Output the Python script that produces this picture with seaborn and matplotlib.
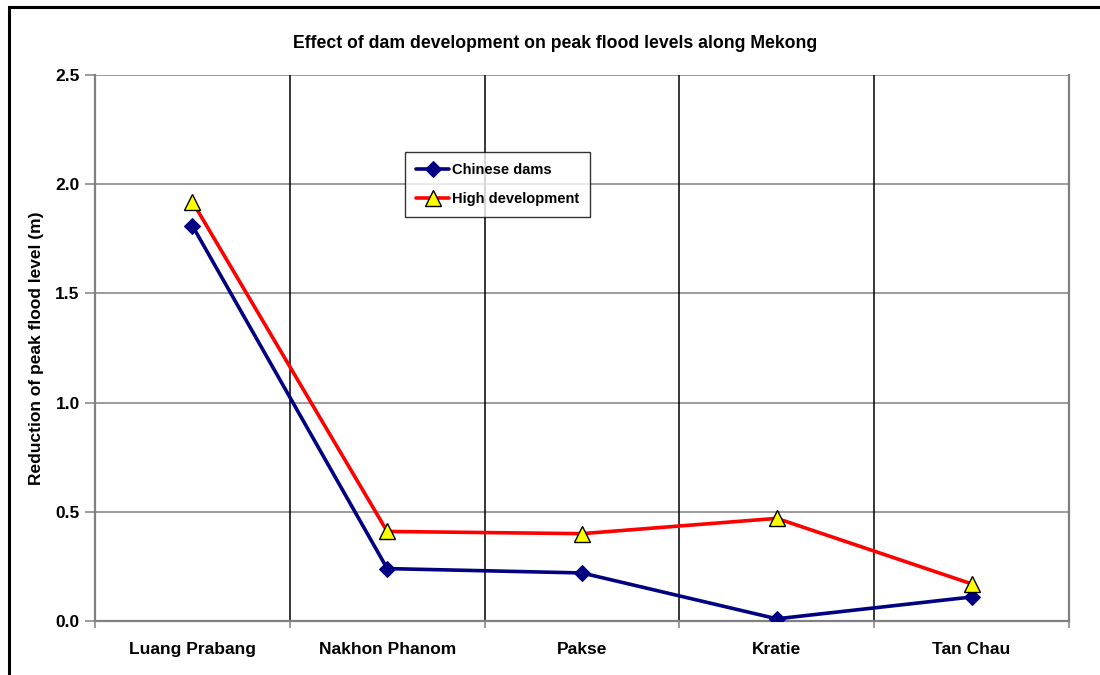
import matplotlib
matplotlib.use("Agg")
import matplotlib.pyplot as plt
import seaborn as sns
import pandas as pd
from matplotlib.patches import Rectangle

stations = ["Luang Prabang", "Nakhon Phanom", "Pakse", "Kratie", "Tan Chau"]
chinese_dams = [1.81, 0.24, 0.22, 0.01, 0.11]
high_development = [1.92, 0.41, 0.40, 0.47, 0.17]
y_ticks = [0.0, 0.5, 1.0, 1.5, 2.0, 2.5]

sns.set_style("white")
plt.rcParams["font.family"] = ["Liberation Sans", "DejaVu Sans"]
plt.rcParams["text.color"] = "black"
plt.rcParams["axes.labelcolor"] = "black"
plt.rcParams["xtick.color"] = "black"
plt.rcParams["ytick.color"] = "black"

df = pd.DataFrame({
    "pos": list(range(len(stations))) * 2,
    "value": chinese_dams + high_development,
    "series": ["Chinese dams"] * len(stations) + ["High development"] * len(stations),
})

fig = plt.figure(figsize=(11, 6.75), dpi=100)
ax = fig.add_axes([95 / 1100, 1 - 621 / 675, (1069 - 95) / 1100, (621 - 75) / 675])

# chart frame
fig.patches.append(Rectangle((8.5 / 1100, -0.1), 1.2, 1 - 7.5 / 675 + 0.1,
                             transform=fig.transFigure, fill=False,
                             edgecolor="black", linewidth=2.2, zorder=0))

grid_gray = "#808080"
for y in y_ticks:
    ax.axhline(y, color=grid_gray, linewidth=1.1, zorder=0)
for b in [0.5, 1.5, 2.5, 3.5]:
    ax.axvline(b, color="black", linewidth=1.1, zorder=0)

sub_c = df[df["series"] == "Chinese dams"]
sub_h = df[df["series"] == "High development"]
sns.lineplot(data=sub_c, x="pos", y="value", ax=ax, color="#000080", linewidth=2.6,
             marker="D", markersize=8, markeredgecolor="#000080",
             markerfacecolor="#000080", label="Chinese dams", zorder=3)
sns.lineplot(data=sub_h, x="pos", y="value", ax=ax, color="#FF0000", linewidth=2.6,
             marker="^", markersize=12, markeredgecolor="black", markeredgewidth=1.0,
             markerfacecolor="#FFFF00", label="High development", zorder=4)

ax.set_xlim(-0.5, len(stations) - 0.5)
ax.set_ylim(0, 2.5)
ax.set_yticks(y_ticks)
ax.set_yticklabels([f"{v:.1f}" for v in y_ticks], fontsize=12.5, fontweight="bold")
ax.set_xticks(range(len(stations)))
ax.set_xticklabels(stations, fontsize=12.5, fontweight="bold")
ax.tick_params(axis="x", length=0, pad=15)
ax.tick_params(axis="y", length=7, width=1.1, color=grid_gray, labelcolor="black",
               left=True, pad=4)
# minor ticks at category boundaries below the axis
ax.set_xticks([-0.5, 0.5, 1.5, 2.5, 3.5, 4.5], minor=True)
ax.tick_params(axis="x", which="minor", length=5, width=1.1, color=grid_gray, bottom=True)

ax.set_xlabel("")
ax.set_ylabel("Reduction of peak flood level (m)", fontsize=12.5, fontweight="bold", labelpad=8)

for side in ["left", "bottom", "right"]:
    ax.spines[side].set_color(grid_gray)
    ax.spines[side].set_linewidth(1.6)
ax.spines["top"].set_visible(False)

fig.text(555 / 1100, 1 - 44 / 675, "Effect of dam development on peak flood levels along Mekong",
         ha="center", va="center", fontsize=12.7, fontweight="bold")

leg = ax.legend(loc="upper left", bbox_to_anchor=((405 - 95) / 974, (621 - 152) / 546),
                frameon=True, fancybox=False, prop={"weight": "bold", "size": 10.5},
                handlelength=2.3, handletextpad=0.15, borderpad=0.75, labelspacing=1.05,
                borderaxespad=0)
leg.get_frame().set_edgecolor("black")
leg.get_frame().set_linewidth(1.0)
leg.set_zorder(6)

fig.savefig("out.png", dpi=100)
